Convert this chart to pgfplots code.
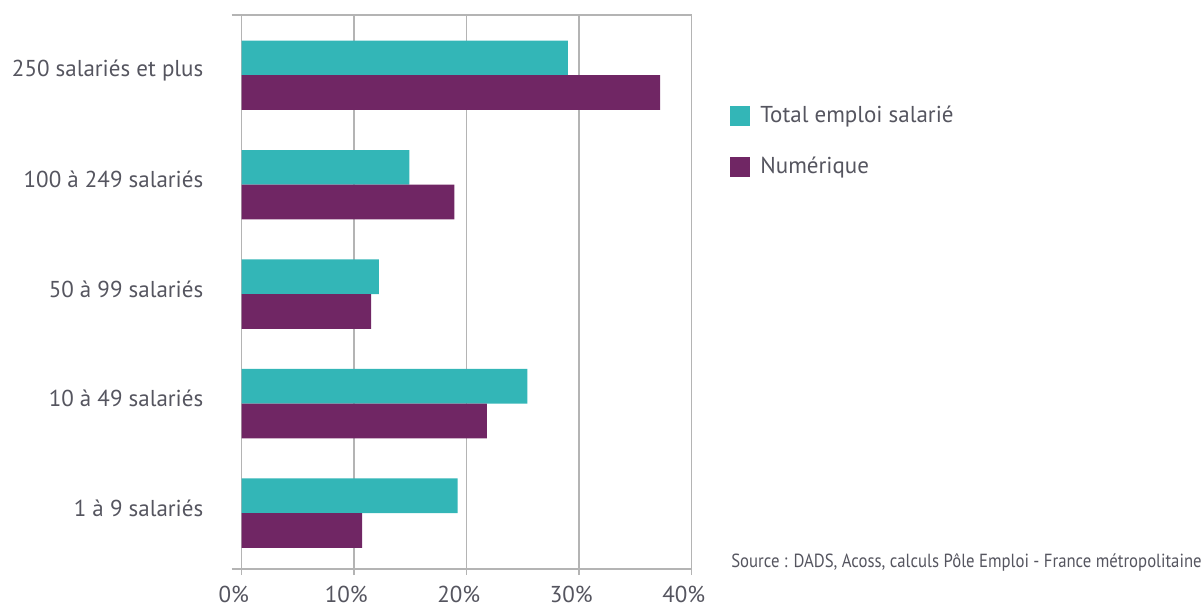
\documentclass[border=0pt]{standalone}
\usepackage{pgfplots}
\pgfplotsset{compat=1.18}
\usepackage{fontspec}
\setmainfont{PT Sans}
\newfontfamily\srcfont[FakeStretch=0.88]{PT Sans}
\definecolor{teal1}{RGB}{51,182,183}
\definecolor{plum}{RGB}{112,38,100}
\definecolor{gridg}{RGB}{180,180,180}
\definecolor{txt}{RGB}{85,85,95}
\begin{document}
\begin{tikzpicture}
\begin{axis}[
  scale only axis, width=225pt, height=277pt,
  xmin=0, xmax=40, ymin=-0.51, ymax=4.55,
  xbar, bar width=17.35pt,
  xtick={0,10,20,30,40},
  xticklabel={\pgfmathprintnumber{\tick}\%},
  /pgf/number format/assume math mode=true,
  ytick={0,1,2,3,4},
  yticklabels={1 à 9 salariés, 10 à 49 salariés, 50 à 99 salariés, 100 à 249 salariés, 250 salariés et plus},
  xtick pos=bottom, ytick pos=left,
  tick align=outside,
  major tick length=3pt,
  x tick style={draw=gridg, line width=0.75pt},
  y tick style={draw=none},
  extra y ticks={-0.51,4.55},
  extra y tick labels={},
  extra y tick style={y tick style={draw=gridg, line width=0.75pt}, major tick length=5pt, grid=none},
  xmajorgrids, grid style={gridg, line width=0.75pt},
  axis line style={gridg, line width=0.75pt},
  x tick label style={font=\fontsize{11.5}{13}\selectfont, text=txt, inner sep=0pt, yshift=-5.5pt, xshift=-4pt},
  y tick label style={font=\fontsize{11.5}{13}\selectfont, text=txt, inner sep=0pt, xshift=-16pt, yshift=2.5pt},
  legend style={draw=none, fill=none, at={(axis description cs:1,1)}, anchor=north west,
    xshift=19.15pt, yshift=-43.5pt, font=\fontsize{11.5}{13}\selectfont, text=txt, row sep=11.5pt, inner sep=0pt},
  legend cell align=left,
  legend image code/.code={\fill[#1, draw=none] (0pt,-5pt) rectangle (10pt,5pt); \path (13pt,0pt);},
]
\addplot[fill=teal1, draw=none, bar shift=8.675pt] coordinates {(19.2,0) (25.4,1) (12.2,2) (14.9,3) (29.0,4)};
\addplot[fill=plum, draw=none, bar shift=-8.675pt] coordinates {(10.7,0) (21.8,1) (11.5,2) (18.9,3) (37.2,4)};
\legend{Total emploi salarié, Numérique}
\end{axis}
\node[anchor=west, font=\srcfont\fontsize{9.5}{11}\selectfont, text=txt, inner sep=0pt] at ([xshift=19.6pt, yshift=3.5pt]current axis.south east) {Source : DADS, Acoss, calculs Pôle Emploi - France métropolitaine};
\pgfresetboundingbox
\path (current axis.south west) ++(-120.85pt,-18.5pt) rectangle ++(601.5pt,303pt);
\end{tikzpicture}
\end{document}
